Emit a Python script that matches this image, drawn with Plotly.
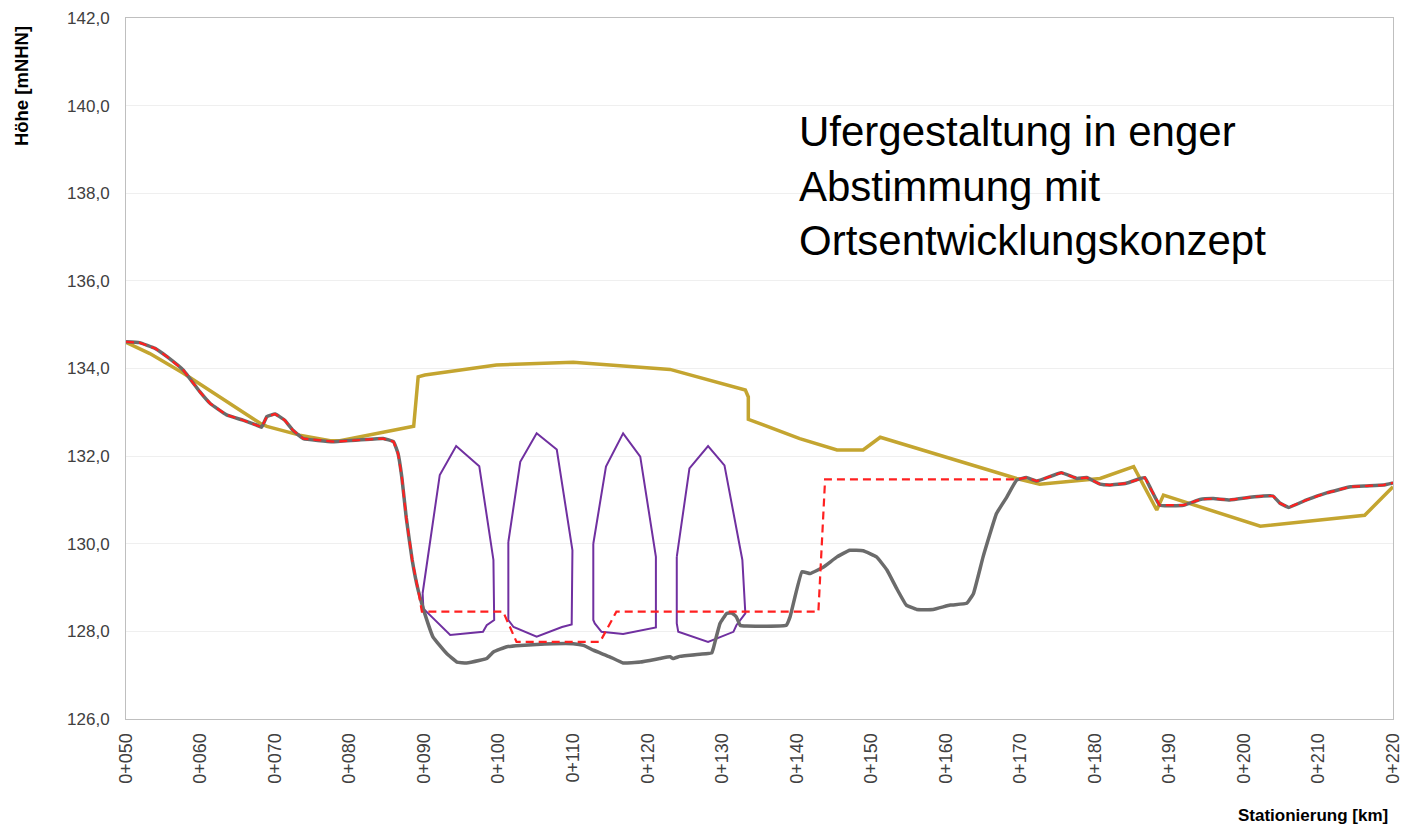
import plotly.graph_objects as go

# ---- data ----
station_ticks = [50, 60, 70, 80, 90, 100, 110, 120, 130, 140, 150, 160, 170, 180, 190, 200, 210, 220]
station_labels = ["0+%03d" % v for v in station_ticks]
height_ticks = [126, 128, 130, 132, 134, 136, 138, 140, 142]
height_labels = ["126,0", "128,0", "130,0", "132,0", "134,0", "136,0", "138,0", "140,0", "142,0"]

bed_x = [50, 51.8, 53.9, 55.5, 57.7, 59.9, 61.3, 63.5, 65.7, 67.5, 68.2, 68.9, 70.0, 71.3, 72.4, 73.8,
         77.8, 84.5, 85.9, 86.5, 87.0, 87.6, 88.4, 89.2, 90.1, 91.2, 93.0, 94.4, 95.7, 97.5, 98.4, 99.3,
         101.1, 102.9, 105.1, 107.3, 110.0, 111.4, 112.7, 114.9, 116.7, 119.0, 121.6, 123.0, 123.4,
         124.3, 127.0, 128.6, 128.8, 129.7, 130.6, 131.3, 131.9, 132.4, 133.3, 138.6, 139.1, 140.7,
         141.8, 143.6, 145.4, 147.1, 148.9, 150.7, 152.1, 153.4, 154.7, 156.1, 158.3, 160.6, 162.8,
         163.7, 165.0, 166.8, 168.2, 169.5, 170.8, 172.2, 175.5, 177.6, 178.9, 180.7, 182.0, 184.2,
         186.1, 186.7, 187.6, 188.7, 191.9, 194.1, 195.9, 198.1, 200.8, 202.6, 203.9, 204.8, 206.0,
         208.4, 211.1, 214.3, 216.5, 218.7, 220.0]
bed_y = [134.61, 134.59, 134.46, 134.27, 133.96, 133.47, 133.20, 132.94, 132.82, 132.71, 132.66, 132.90,
         132.96, 132.82, 132.59, 132.40, 132.33, 132.40, 132.33, 132.06, 131.53, 130.60, 129.63, 128.94,
         128.40, 127.87, 127.50, 127.30, 127.28, 127.34, 127.38, 127.53, 127.65, 127.68, 127.70, 127.72,
         127.72, 127.68, 127.57, 127.42, 127.28, 127.30, 127.38, 127.42, 127.38, 127.43, 127.48, 127.51,
         127.61, 128.18, 128.41, 128.42, 128.33, 128.14, 128.12, 128.14, 128.33, 129.36, 129.32, 129.47,
         129.70, 129.85, 129.84, 129.70, 129.40, 128.98, 128.60, 128.50, 128.50, 128.60, 128.64, 128.86,
         129.70, 130.69, 131.07, 131.45, 131.51, 131.43, 131.62, 131.49, 131.51, 131.36, 131.34, 131.38,
         131.49, 131.51, 131.22, 130.88, 130.88, 131.01, 131.03, 131.00, 131.06, 131.09, 131.09, 130.93,
         130.83, 131.00, 131.16, 131.30, 131.32, 131.34, 131.39]

plan_x = [50, 51.8, 53.9, 55.5, 57.7, 59.9, 61.3, 63.5, 65.7, 67.5, 68.2, 68.9, 70.0, 71.3, 72.4, 73.8,
          77.8, 84.5, 85.9, 86.5, 87.0, 87.6, 88.4, 89.2, 89.7, 100.6, 102.4, 113.6, 115.8, 142.9, 143.8,
          169.5, 170.8, 172.2, 175.5, 177.6, 178.9, 180.7, 182.0, 184.2, 186.1, 186.7, 187.6, 188.7,
          191.9, 194.1, 195.9, 198.1, 200.8, 202.6, 203.9, 204.8, 206.0, 208.4, 211.1, 214.3, 216.5,
          218.7, 220.0]
plan_y = [134.61, 134.59, 134.46, 134.27, 133.96, 133.47, 133.20, 132.94, 132.82, 132.71, 132.66, 132.90,
          132.96, 132.82, 132.59, 132.40, 132.33, 132.40, 132.33, 132.06, 131.53, 130.60, 129.63, 128.94,
          128.45, 128.45, 127.76, 127.76, 128.45, 128.45, 131.47, 131.47, 131.51, 131.43, 131.62, 131.49,
          131.51, 131.36, 131.34, 131.38, 131.49, 131.51, 131.22, 130.88, 130.88, 131.01, 131.03, 131.00,
          131.06, 131.09, 131.09, 130.93, 130.83, 131.00, 131.16, 131.30, 131.32, 131.34, 131.39]

bank_x = [50, 53.2, 57.7, 68.0, 68.9, 73.3, 77.4, 78.7, 88.6, 89.2, 90.1, 99.7, 110.0, 123.0, 133.1,
          133.5, 133.5, 140.4, 145.4, 148.9, 151.2, 169.5, 172.6, 180.7, 185.2, 188.3, 189.2, 202.2,
          216.2, 220.0]
bank_y = [134.60, 134.34, 133.89, 132.75, 132.68, 132.48, 132.35, 132.35, 132.68, 133.81, 133.85,
          134.08, 134.14, 133.98, 133.51, 133.35, 132.84, 132.40, 132.14, 132.14, 132.43, 131.49,
          131.36, 131.49, 131.76, 130.77, 131.11, 130.40, 130.65, 131.30]

shape1_x = [89.8, 92.1, 94.3, 97.4, 99.3, 99.4, 98.4, 97.9, 93.5, 89.9, 89.8]
shape1_y = [128.87, 131.57, 132.23, 131.77, 129.63, 128.26, 128.14, 127.99, 127.92, 128.52, 128.87]
shape2_x = [101.3, 102.9, 105.1, 107.8, 109.9, 109.8, 108.5, 105.1, 102.0, 101.3, 101.3]
shape2_y = [130.04, 131.87, 132.52, 132.15, 129.85, 128.16, 128.10, 127.88, 128.10, 128.26, 130.04]
shape3_x = [112.7, 114.4, 116.7, 119.0, 121.1, 121.1, 116.7, 113.8, 112.9, 112.7, 112.7]
shape3_y = [130.00, 131.76, 132.52, 131.99, 129.70, 128.09, 127.94, 127.99, 128.18, 128.26, 130.00]
shape4_x = [123.9, 125.6, 128.1, 130.3, 132.7, 133.1, 131.9, 131.5, 128.1, 124.1, 123.9, 123.9]
shape4_y = [129.70, 131.72, 132.23, 131.79, 129.63, 128.41, 128.14, 127.99, 127.76, 127.99, 128.18, 129.70]

note_lines = ["Ufergestaltung in enger", "Abstimmung mit", "Ortsentwicklungskonzept"]

# ---- figure ----
FONT = "Liberation Sans, Arial, sans-serif"
fig = go.Figure()

purple = "#7030A0"
for sx, sy in [(shape1_x, shape1_y), (shape2_x, shape2_y), (shape3_x, shape3_y), (shape4_x, shape4_y)]:
    fig.add_trace(go.Scatter(x=sx, y=sy, mode="lines", line=dict(color=purple, width=2),
                             showlegend=False, hoverinfo="skip"))

fig.add_trace(go.Scatter(x=bank_x, y=bank_y, mode="lines",
                         line=dict(color="#C4A530", width=3.5), showlegend=False))
fig.add_trace(go.Scatter(x=bed_x, y=bed_y, mode="lines", line_shape="spline",
                         line=dict(color="#6B6B6B", width=3.5, smoothing=0.3), showlegend=False))
fig.add_trace(go.Scatter(x=plan_x, y=plan_y, mode="lines",
                         line=dict(color="#FF2020", width=2.2, dash="8px,5px"), showlegend=False))

fig.add_annotation(x=140, y=138.16, xref="x", yref="y", xanchor="left", yanchor="middle",
                   align="left", showarrow=False, text="<br>".join(note_lines),
                   font=dict(family=FONT, size=42, color="#000000"))
fig.add_annotation(x=-0.082, y=0.903, xref="paper", yref="paper", xanchor="center", yanchor="middle",
                   textangle=-90, showarrow=False, text="<b>Höhe [mNHN]</b>",
                   font=dict(family=FONT, size=18.5, color="#000000"))
fig.add_annotation(x=0.9976, y=-0.137, xref="paper", yref="paper", xanchor="right", yanchor="middle",
                   showarrow=False, text="<b>Stationierung [km]</b>",
                   font=dict(family=FONT, size=17, color="#000000"))

# page body has an 8px default margin, so the figure is offset by 8px
fig.update_layout(
    width=1412, height=818,
    margin=dict(l=118, r=27, t=10, b=107),
    paper_bgcolor="white", plot_bgcolor="white",
    font=dict(family=FONT, size=16, color="#404040"),
    showlegend=False,
)
fig.update_xaxes(range=[50, 220], tickvals=station_ticks, ticktext=station_labels, tickangle=-90,
                 showgrid=False, zeroline=False, showline=True, mirror=True, linecolor="#BFBFBF",
                 linewidth=1, ticks="", ticklabelstandoff=6, automargin=False,
                 tickfont=dict(size=18, color="#404040"))
fig.update_yaxes(range=[126, 142], tickvals=height_ticks, ticktext=height_labels,
                 showgrid=True, gridcolor="#EFEFEF", gridwidth=1, zeroline=False, showline=True,
                 mirror=True, linecolor="#BFBFBF", linewidth=1, ticks="", ticklabelstandoff=12,
                 automargin=False, tickfont=dict(size=17, color="#404040"))

fig.write_html("out.html")
